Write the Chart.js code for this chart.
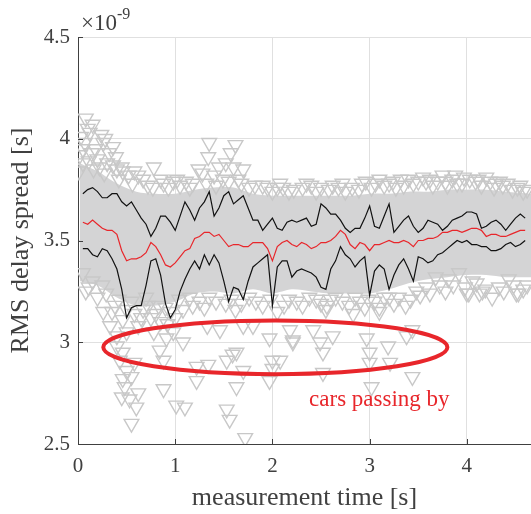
<!DOCTYPE html>
<html>
<head>
<meta charset="utf-8">
<script src="https://cdn.jsdelivr.net/npm/chart.js@4.4.0/dist/chart.umd.min.js"></script>
<style>
html, body { margin: 0; padding: 0; background: #ffffff; }
</style>
</head>
<body>
<canvas id="myChart" width="531" height="514"></canvas>
<script>
// time axis of the three smoothed curves [s]
const lineTime = [
    0.05, 0.10, 0.15, 0.20, 0.25, 0.30, 0.35, 0.40, 0.45, 0.50,
    0.55, 0.60, 0.65, 0.70, 0.75, 0.80, 0.85, 0.90, 0.95, 1.00,
    1.05, 1.10, 1.15, 1.20, 1.25, 1.30, 1.35, 1.40, 1.45, 1.50,
    1.55, 1.60, 1.65, 1.70, 1.75, 1.80, 1.85, 1.90, 1.95, 2.00,
    2.05, 2.10, 2.15, 2.20, 2.25, 2.30, 2.35, 2.40, 2.45, 2.50,
    2.55, 2.60, 2.65, 2.70, 2.75, 2.80, 2.85, 2.90, 2.95, 3.00,
    3.05, 3.10, 3.15, 3.20, 3.25, 3.30, 3.35, 3.40, 3.45, 3.50,
    3.55, 3.60, 3.65, 3.70, 3.75, 3.80, 3.85, 3.90, 3.95, 4.00,
    4.05, 4.10, 4.15, 4.20, 4.25, 4.30, 4.35, 4.40, 4.45, 4.50,
    4.55, 4.60
];

// RMS delay spread, x 1e-9 s
const upperRms = [
    3.73, 3.75, 3.76, 3.74, 3.71, 3.71, 3.73, 3.73, 3.69, 3.67,
    3.69, 3.65, 3.61, 3.58, 3.52, 3.56, 3.62, 3.62, 3.59, 3.55,
    3.62, 3.69, 3.65, 3.60, 3.66, 3.69, 3.74, 3.62, 3.66, 3.72,
    3.74, 3.68, 3.70, 3.72, 3.66, 3.60, 3.60, 3.55, 3.58, 3.61,
    3.56, 3.55, 3.59, 3.60, 3.59, 3.60, 3.61, 3.57, 3.58, 3.68,
    3.66, 3.63, 3.63, 3.60, 3.56, 3.54, 3.56, 3.56, 3.61, 3.67,
    3.57, 3.56, 3.62, 3.68, 3.54, 3.57, 3.60, 3.62, 3.57, 3.54,
    3.56, 3.60, 3.59, 3.58, 3.55, 3.57, 3.60, 3.61, 3.62, 3.64,
    3.64, 3.63, 3.56, 3.57, 3.59, 3.60, 3.58, 3.55, 3.58, 3.61,
    3.63, 3.61
];

const medianRms = [
    3.59, 3.58, 3.60, 3.58, 3.56, 3.55, 3.55, 3.53, 3.45, 3.40,
    3.41, 3.41, 3.42, 3.44, 3.49, 3.47, 3.43, 3.38, 3.37, 3.39,
    3.42, 3.45, 3.46, 3.51, 3.52, 3.54, 3.54, 3.52, 3.53, 3.50,
    3.47, 3.48, 3.48, 3.47, 3.47, 3.49, 3.49, 3.49, 3.46, 3.40,
    3.47, 3.49, 3.50, 3.48, 3.47, 3.49, 3.48, 3.46, 3.47, 3.49,
    3.49, 3.50, 3.52, 3.55, 3.53, 3.48, 3.46, 3.49, 3.48, 3.45,
    3.48, 3.48, 3.49, 3.50, 3.49, 3.49, 3.50, 3.49, 3.47, 3.50,
    3.50, 3.51, 3.51, 3.52, 3.54, 3.54, 3.55, 3.55, 3.54, 3.55,
    3.56, 3.56, 3.55, 3.52, 3.53, 3.53, 3.52, 3.52, 3.53, 3.54,
    3.55, 3.55
];

const lowerRms = [
    3.46, 3.46, 3.43, 3.42, 3.46, 3.45, 3.41, 3.36, 3.26, 3.12,
    3.17, 3.18, 3.18, 3.28, 3.40, 3.41, 3.33, 3.19, 3.12, 3.16,
    3.25, 3.31, 3.36, 3.40, 3.36, 3.43, 3.38, 3.43, 3.39, 3.30,
    3.20, 3.27, 3.26, 3.21, 3.30, 3.37, 3.39, 3.41, 3.43, 3.18,
    3.37, 3.40, 3.40, 3.32, 3.35, 3.36, 3.35, 3.34, 3.32, 3.27,
    3.26, 3.36, 3.40, 3.47, 3.43, 3.41, 3.37, 3.40, 3.42, 3.23,
    3.35, 3.38, 3.36, 3.26, 3.33, 3.38, 3.41, 3.36, 3.30, 3.42,
    3.41, 3.39, 3.40, 3.43, 3.44, 3.46, 3.48, 3.50, 3.49, 3.50,
    3.48, 3.48, 3.47, 3.47, 3.45, 3.45, 3.46, 3.48, 3.49, 3.47,
    3.48, 3.50
];

// saturated core of the measurement cloud (overlapping markers)
const cloudTime   = [0.02, 0.2, 0.4, 0.6, 0.8, 1.0, 1.2, 1.4, 1.6, 1.8, 2.0, 2.2, 2.4, 2.6, 2.8, 3.0, 3.2, 3.4, 3.6, 3.8, 4.0, 4.2, 4.4, 4.66];
const cloudTop    = [3.88, 3.84, 3.78, 3.74, 3.73, 3.73, 3.75, 3.76, 3.76, 3.73, 3.72, 3.72, 3.72, 3.72, 3.72, 3.73, 3.73, 3.74, 3.74, 3.75, 3.75, 3.75, 3.74, 3.73];
const cloudBottom = [3.30, 3.28, 3.22, 3.18, 3.18, 3.20, 3.24, 3.25, 3.24, 3.26, 3.24, 3.26, 3.25, 3.24, 3.24, 3.24, 3.26, 3.29, 3.31, 3.32, 3.33, 3.33, 3.32, 3.32];

// individual measurements that stick out of the cloud
const sampleTime = [
    // upper fringe
    0.08, 0.15, 0.24, 0.05, 0.18, 0.36, 0.11, 0.36, 0.46, 0.67,
    0.78, 0.88, 0.98, 1.11, 1.24, 1.35, 1.34, 1.62, 1.57, 1.45,
    1.60, 1.70, 1.28, 1.49, 1.90, 2.11, 2.31, 2.58, 2.75, 2.96,
    3.06, 3.20, 3.40, 3.50, 3.75, 3.85, 3.97, 4.09, 4.24, 4.37,
    4.47, 4.58, 3.65, 3.27, 2.89, 2.45, 2.17, 2.00, 1.76, 0.77,
    0.52, 0.27, 0.01, 0.03, 0.26, 0.39, 0.12, 0.20, 0.30, 0.42,
    0.56, 0.62, 1.05, 1.18, 1.40, 1.52, 1.65, 2.05, 2.40, 2.68,
    3.10, 3.35, 3.58, 3.80, 3.90, 4.15, 4.30, 4.52,
    0.45, 0.58, 0.72, 0.85, 0.93, 1.02, 1.15, 1.32, 1.42, 1.55,
    1.68, 1.82, 1.95, 2.08, 2.22, 2.35, 2.50, 2.62, 2.72, 2.82,
    2.92, 3.02, 3.15, 3.24, 3.32, 3.45, 3.55, 3.62, 3.70, 3.78,
    3.88, 3.95, 4.03, 4.12, 4.20, 4.28, 4.34, 4.42, 4.55, 4.62,
    0.02, 0.07, 0.14, 0.22, 0.32, 0.10, 0.28, 0.40, 0.16, 0.05,
    // lower fringe
    0.05, 0.11, 0.29, 0.42, 0.46, 0.67, 0.83, 1.04, 1.18, 1.35,
    1.52, 1.76, 1.90, 2.17, 2.31, 2.45, 2.65, 2.79, 2.99, 3.20,
    3.37, 3.58, 3.81, 4.02, 4.19, 4.33, 4.53, 4.43, 3.92, 3.68,
    0.20, 0.58, 0.75, 0.95, 1.25, 1.62, 2.05, 2.55, 2.90, 3.10,
    3.30, 3.48, 3.72, 4.10, 4.26, 4.62, 0.35, 0.55, 0.70, 0.85,
    1.00, 0.62, 0.78, 0.92,
    0.08, 0.15, 0.25, 0.38, 0.50, 0.65, 0.72, 0.80, 0.90, 1.08,
    1.15, 1.30, 1.42, 1.58, 1.68, 1.83, 1.98, 2.12, 2.25, 2.38,
    2.50, 2.60, 2.72, 2.85, 2.95, 3.05, 3.15, 3.25, 3.42, 3.52,
    3.62, 3.78, 3.86, 3.98, 4.06, 4.16, 4.38, 4.48, 4.58,
    // cars passing by
    0.26, 0.40, 0.46, 0.43, 0.50, 0.46, 0.45, 0.53, 0.60, 0.55,
    0.55, 0.40, 0.84, 0.88, 0.91, 0.88, 1.01, 1.10, 0.98, 1.08,
    1.22, 1.22, 1.34, 1.33, 1.46, 1.53, 1.63, 1.59, 1.70, 1.63,
    1.53, 1.56, 1.72, 1.97, 2.00, 1.97, 2.00, 2.21, 1.70, 1.80,
    2.18, 2.08, 2.42, 2.49, 2.52, 2.52, 2.62, 2.21, 2.83, 2.97,
    3.00, 3.00, 3.19, 3.21, 3.02, 3.44, 3.44, 3.38, 3.10, 2.56,
    4.00, 4.51, 4.13, 0.33, 0.50, 0.58, 0.48, 0.62
];

const sampleRms = [
    // upper fringe
    4.10, 4.07, 4.02, 3.95, 3.95, 3.96, 3.89, 3.87, 3.84, 3.80,
    3.86, 3.78, 3.79, 3.79, 3.85, 3.98, 3.91, 3.97, 3.93, 3.86,
    3.86, 3.85, 3.83, 3.80, 3.77, 3.76, 3.76, 3.75, 3.74, 3.79,
    3.78, 3.78, 3.80, 3.79, 3.82, 3.80, 3.81, 3.79, 3.79, 3.77,
    3.75, 3.74, 3.77, 3.76, 3.75, 3.74, 3.74, 3.74, 3.76, 3.76,
    3.82, 3.83, 3.84, 4.01, 3.98, 3.91, 4.03, 3.90, 3.88, 3.80,
    3.78, 3.82, 3.77, 3.78, 3.82, 3.88, 3.80, 3.76, 3.77, 3.76,
    3.80, 3.77, 3.79, 3.77, 3.78, 3.77, 3.78, 3.76,
    3.86, 3.84, 3.77, 3.80, 3.76, 3.80, 3.76, 3.78, 3.77, 3.79,
    3.78, 3.77, 3.76, 3.78, 3.75, 3.78, 3.76, 3.77, 3.78, 3.76,
    3.78, 3.76, 3.77, 3.79, 3.80, 3.78, 3.81, 3.80, 3.79, 3.79,
    3.82, 3.78, 3.80, 3.80, 3.81, 3.76, 3.79, 3.78, 3.77, 3.75,
    3.92, 3.98, 3.93, 3.86, 3.93, 4.05, 4.00, 3.85, 3.85, 3.88,
    // lower fringe
    3.34, 3.27, 3.24, 3.21, 3.11, 3.16, 3.18, 3.21, 3.18, 3.22,
    3.19, 3.22, 3.18, 3.21, 3.18, 3.21, 3.22, 3.18, 3.21, 3.22,
    3.18, 3.27, 3.31, 3.24, 3.26, 3.27, 3.24, 3.31, 3.34, 3.32,
    3.22, 3.14, 3.12, 3.15, 3.20, 3.16, 3.15, 3.16, 3.20, 3.17,
    3.22, 3.25, 3.28, 3.29, 3.22, 3.28, 3.15, 3.20, 3.22, 3.10,
    3.12, 3.08, 3.05, 3.09,
    3.25, 3.30, 3.28, 3.18, 3.16, 3.12, 3.18, 3.14, 3.17, 3.16,
    3.22, 3.17, 3.20, 3.21, 3.19, 3.20, 3.21, 3.18, 3.20, 3.22,
    3.19, 3.21, 3.20, 3.22, 3.17, 3.20, 3.22, 3.19, 3.21, 3.23,
    3.24, 3.25, 3.28, 3.27, 3.30, 3.25, 3.25, 3.28, 3.26,
    // cars passing by
    3.15, 2.98, 2.95, 2.91, 2.86, 2.82, 2.73, 2.72, 2.68, 2.60,
    2.83, 3.03, 2.96, 2.91, 3.02, 2.77, 2.69, 2.68, 3.05, 3.00,
    2.81, 2.88, 2.89, 3.08, 3.06, 2.91, 2.95, 2.94, 2.86, 2.78,
    2.67, 2.62, 2.53, 3.02, 2.91, 2.81, 2.87, 3.01, 3.08, 3.08,
    3.06, 2.91, 3.06, 3.00, 2.95, 2.85, 3.03, 3.00, 3.14, 3.02,
    2.95, 2.90, 2.98, 2.90, 2.78, 2.83, 3.06, 3.03, 3.15, 3.18,
    3.24, 3.24, 3.24, 3.08, 3.05, 2.90, 2.78, 2.75
];

const xTicks = [0, 1, 2, 3, 4];
const yTicks = [2.5, 3, 3.5, 4, 4.5];

// "cars passing by" annotation: ellipse centre / half axes and label position (data units)
const ellipseCenter = [2.03, 2.975];
const ellipseRadius = [1.77, 0.132];
const labelPos = [3.10, 2.715];

function toPoints(xs, ys)
{
    return xs.map(function (x, i) { return { x: x, y: ys[i] }; });
}

const serif = '"Liberation Serif", "Times New Roman", serif';
const axisGrey = '#404040';
const markerGrey = '#c8c8c8';
const red = '#e8262b';

const annotate = {
    id: 'annotate',
    afterDatasetsDraw(chart)
    {
        const ctx = chart.ctx;
        const xs = chart.scales.x;
        const ys = chart.scales.y;
        const cx = xs.getPixelForValue(ellipseCenter[0]);
        const cy = ys.getPixelForValue(ellipseCenter[1]);
        const rx = xs.getPixelForValue(ellipseCenter[0] + ellipseRadius[0]) - cx;
        const ry = cy - ys.getPixelForValue(ellipseCenter[1] + ellipseRadius[1]);

        ctx.save();
        ctx.beginPath();
        ctx.ellipse(cx, cy, rx, ry, 0, 0, Math.PI * 2);
        ctx.strokeStyle = red;
        ctx.lineWidth = 4;
        ctx.stroke();

        ctx.fillStyle = red;
        ctx.font = '23px ' + serif;
        ctx.textAlign = 'center';
        ctx.textBaseline = 'middle';
        ctx.fillText('cars passing by', xs.getPixelForValue(labelPos[0]), ys.getPixelForValue(labelPos[1]));
        ctx.restore();
    },
    afterDraw(chart)
    {
        const ctx = chart.ctx;
        const xs = chart.scales.x;
        const ys = chart.scales.y;
        const area = chart.chartArea;

        ctx.save();
        // matlab style inward tick marks
        ctx.strokeStyle = axisGrey;
        ctx.lineWidth = 1;
        ctx.beginPath();
        xTicks.forEach(function (t) {
            const px = Math.round(xs.getPixelForValue(t)) + 0.5;
            ctx.moveTo(px, area.bottom);
            ctx.lineTo(px, area.bottom - 5);
        });
        yTicks.forEach(function (t) {
            const py = Math.round(ys.getPixelForValue(t)) + 0.5;
            ctx.moveTo(area.left, py);
            ctx.lineTo(area.left + 5, py);
        });
        ctx.stroke();

        // exponent of the y axis
        ctx.fillStyle = axisGrey;
        ctx.textAlign = 'left';
        ctx.textBaseline = 'alphabetic';
        ctx.font = '23px ' + serif;
        ctx.fillText('\u00d710', area.left + 3, area.top - 7);
        const w = ctx.measureText('\u00d710').width;
        ctx.font = '16px ' + serif;
        ctx.fillText('-9', area.left + 3 + w, area.top - 18);
        ctx.restore();
    }
};

const ctx = document.getElementById('myChart');
const myChart = new Chart(ctx, {
    type: 'line',
    data: {
        datasets: [
            {
                label: 'upper',
                data: toPoints(lineTime, upperRms),
                borderColor: '#111111',
                borderWidth: 1.2,
                pointRadius: 0,
                tension: 0,
                fill: false
            },
            {
                label: 'median',
                data: toPoints(lineTime, medianRms),
                borderColor: red,
                borderWidth: 1.2,
                pointRadius: 0,
                tension: 0,
                fill: false
            },
            {
                label: 'lower',
                data: toPoints(lineTime, lowerRms),
                borderColor: '#111111',
                borderWidth: 1.2,
                pointRadius: 0,
                tension: 0,
                fill: false
            },
            {
                label: 'samples',
                data: toPoints(sampleTime, sampleRms),
                showLine: false,
                pointStyle: 'triangle',
                rotation: 180,
                pointRadius: 8.5,
                pointBorderWidth: 1.4,
                pointBorderColor: markerGrey,
                pointBackgroundColor: 'rgba(255,255,255,0)',
                fill: false
            },
            {
                label: 'cloudTop',
                data: toPoints(cloudTime, cloudTop),
                borderWidth: 0,
                borderColor: 'rgba(0,0,0,0)',
                backgroundColor: '#d4d4d5',
                pointRadius: 0,
                tension: 0.3,
                fill: '+1'
            },
            {
                label: 'cloudBottom',
                data: toPoints(cloudTime, cloudBottom),
                borderWidth: 0,
                borderColor: 'rgba(0,0,0,0)',
                pointRadius: 0,
                tension: 0.3,
                fill: false
            }
        ]
    },
    options: {
        responsive: false,
        animation: false,
        events: [],
        layout: {
            autoPadding: false,
            padding: { top: 37, right: 0, bottom: 0, left: 0 }
        },
        plugins: {
            legend: { display: false },
            tooltip: { enabled: false }
        },
        scales: {
            x: {
                type: 'linear',
                min: 0,
                max: 4.66,
                afterFit: function (s) { s.height = 70; s.paddingLeft = 0; s.paddingRight = 0; },
                grid: { color: '#e0e0e0', drawTicks: false },
                border: { color: axisGrey, width: 1 },
                ticks: {
                    stepSize: 1,
                    includeBounds: false,
                    padding: 10,
                    color: axisGrey,
                    font: { family: serif, size: 21 },
                    callback: function (v) { return String(v); }
                },
                title: {
                    display: true,
                    text: 'measurement time [s]',
                    color: axisGrey,
                    font: { family: serif, size: 26 },
                    padding: { top: 0, bottom: 0 }
                }
            },
            y: {
                min: 2.5,
                max: 4.5,
                afterFit: function (s) { s.width = 78; },
                grid: { color: '#e0e0e0', drawTicks: false },
                border: { color: axisGrey, width: 1 },
                ticks: {
                    stepSize: 0.5,
                    padding: 8,
                    color: axisGrey,
                    font: { family: serif, size: 21 },
                    callback: function (v) { return String(v); }
                },
                title: {
                    display: true,
                    text: 'RMS delay spread [s]',
                    color: axisGrey,
                    font: { family: serif, size: 26 },
                    padding: { top: 6, bottom: 0 }
                }
            }
        }
    },
    plugins: [annotate]
});
</script>
</body>
</html>
